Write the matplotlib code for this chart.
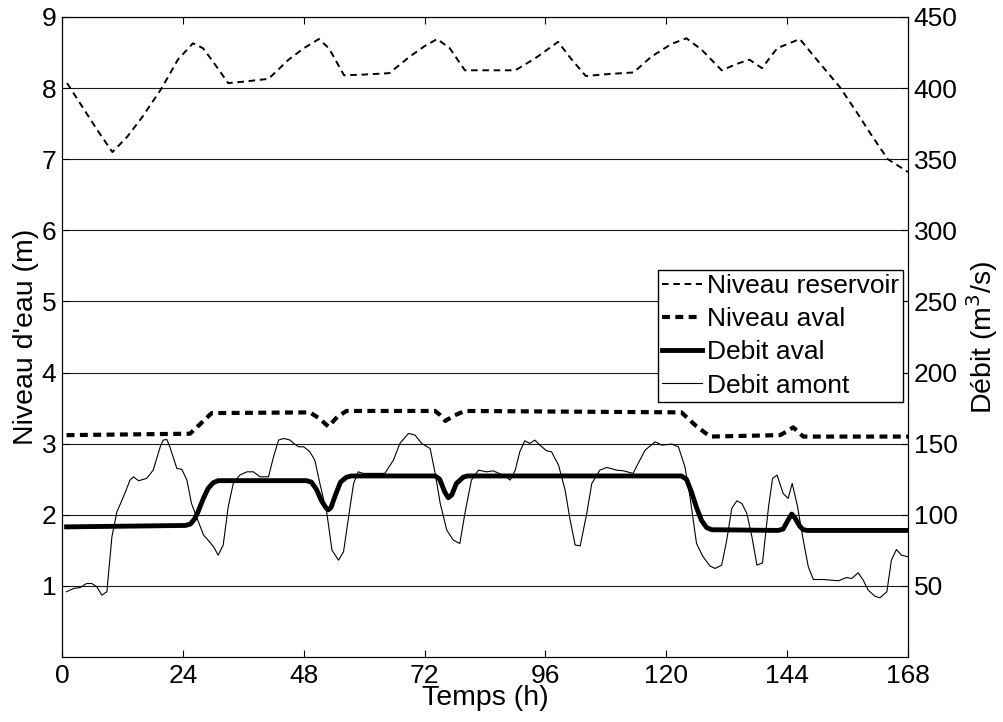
import numpy as np
import matplotlib
matplotlib.use("Agg")
import matplotlib.pyplot as plt

plt.rcParams['font.family'] = ['Liberation Sans', 'DejaVu Sans']

# Niveau reservoir (m)
t_res = [1, 4, 7, 10, 13, 16, 19.8, 23, 26, 28, 30, 33, 36, 41, 45, 48, 51, 53, 56, 60, 65, 69, 72,
	74.5, 77, 80, 85, 90, 94, 98.5, 101, 104, 109, 113.5, 117, 121, 124, 127, 131, 134, 136.5, 139,
	142, 146.5, 150, 154.5, 158, 161, 164, 168]
niveau_res = [8.07, 7.74, 7.41, 7.10, 7.32, 7.60, 8.00, 8.40, 8.63, 8.56, 8.37, 8.07, 8.09, 8.13, 8.40,
	8.56, 8.69, 8.56, 8.18, 8.19, 8.21, 8.44, 8.59, 8.69, 8.56, 8.25, 8.25, 8.25, 8.42, 8.65, 8.42,
	8.17, 8.20, 8.22, 8.44, 8.62, 8.70, 8.54, 8.25, 8.34, 8.40, 8.28, 8.56, 8.69, 8.39, 8.01, 7.64,
	7.31, 7.00, 6.82]

# Niveau aval (m)
t_aval = [0.9, 25.4, 27.5, 29.7, 49.2, 51, 52.9, 54.7, 56.5, 74.1, 75.1, 76.1, 78, 80, 123, 125.9,
	128.7, 142.6, 143.9, 145.2, 147.2, 168]
niveau_aval = [3.12, 3.14, 3.28, 3.43, 3.44, 3.36, 3.24, 3.38, 3.46, 3.46, 3.40, 3.32, 3.40, 3.46,
	3.44, 3.25, 3.10, 3.12, 3.17, 3.23, 3.10, 3.10]

# Debit aval (m3/s)
t_qaval = [0.9, 24.5, 25.5, 26.3, 27, 28, 29, 30, 31, 48.5, 49.5, 50.5, 51.5, 52.4, 52.9, 53.4,
	54.3, 55.3, 56.5, 57.5, 74.1, 75.0, 76.0, 76.7, 77.4, 78.3, 79.7, 80.5, 123, 124, 125, 126,
	127, 128, 129, 142.2, 143.2, 144.3, 144.9, 145.5, 146.5, 147.2, 148, 168]
debit_aval = [91.5, 92.5, 93.5, 97, 102, 111, 118.5, 122.5, 124, 124, 123, 118, 110, 105, 103.5,
	105, 114, 123, 126.5, 127.3, 127.3, 125, 116, 112, 114, 122, 126.5, 127.3, 127.3, 125, 116,
	105, 96, 91, 89.5, 89, 90, 97, 100.5, 98, 92, 89.5, 89, 89]

# Debit amont (m3/s)
t_qamont = [0.9, 2.3, 3.6, 4.9, 5.9, 6.9, 7.9, 8.9, 9.9, 10.9, 12.2, 13.5, 14.2, 15.2, 16.8, 18.1,
	19.5, 20.1, 20.8, 21.4, 22.8, 23.8, 24.8, 25.7, 26.7, 28.1, 28.7, 30.1, 31.0, 32.0, 33.0, 34.0,
	35.3, 36.7, 38.0, 39.3, 41.0, 42.0, 43.0, 44.0, 45.3, 46.0, 47.0, 48.0, 49.2, 50.2, 51.2, 52.6,
	53.6, 54.9, 55.9, 57.2, 57.9, 58.8, 59.8, 63.1, 64.1, 65.8, 67.1, 68.8, 70.1, 71.4, 73.1, 74.1,
	75.1, 76.4, 77.7, 79.0, 80.0, 81.3, 82.7, 84.3, 85.6, 87.6, 89.0, 90.0, 90.9, 91.9, 92.9, 93.9,
	94.9, 96.2, 97.2, 98.6, 99.9, 100.9, 101.9, 102.9, 104.2, 105.2, 106.8, 108.2, 110.1, 111.5,
	113.4, 114.4, 115.8, 117.8, 119.1, 121.1, 122.4, 123.7, 124.7, 126.0, 127.3, 128.7, 129.7, 131.0,
	132.0, 133.0, 134.0, 135.0, 136.0, 137.0, 138.0, 139.1, 140.3, 141.1, 142.0, 143.2, 144.2, 145.0,
	146.0, 147.2, 148.2, 149.2, 151.2, 154.2, 155.8, 156.8, 158.1, 159.1, 160.1, 161.4, 162.4, 163.8,
	164.7, 165.7, 166.7, 168.0]
debit_amont = [45.9, 48.2, 48.9, 51.7, 51.7, 49.4, 43.5, 45.9, 84.5, 102.1, 112.7, 124.4, 126.7,
	123.9, 125.6, 131.4, 147.8, 152.5, 153.0, 147.8, 132.6, 131.9, 124.4, 108.0, 98.6, 85.7, 83.4,
	77.5, 71.6, 78.7, 105.6, 122.0, 127.9, 130.2, 130.2, 126.7, 126.7, 140.8, 152.5, 153.7, 152.5,
	150.2, 147.8, 147.8, 144.3, 138.4, 122.0, 100.9, 75.2, 68.1, 74.0, 105.6, 122.0, 130.2, 129.1,
	129.1, 129.1, 138.4, 150.2, 157.2, 156.0, 150.2, 146.6, 129.1, 108.0, 89.2, 82.2, 79.8, 100.9,
	124.4, 131.4, 130.2, 130.9, 127.9, 124.4, 131.4, 144.3, 152.0, 150.2, 152.5, 149.0, 145.0, 144.3,
	134.9, 117.4, 96.3, 78.7, 78.2, 100.9, 122.0, 131.4, 133.3, 131.4, 130.9, 129.1, 136.1, 145.5,
	151.3, 149.0, 149.7, 147.8, 133.7, 112.7, 79.8, 70.5, 63.9, 62.3, 64.6, 82.2, 104.5, 109.8, 108.0,
	100.9, 84.5, 64.6, 66.2, 105.6, 125.6, 127.9, 115.0, 111.5, 122.0, 106.8, 82.2, 63.4, 54.5, 54.5,
	53.6, 55.9, 55.2, 59.2, 54.1, 47.0, 42.8, 41.6, 45.9, 68.1, 75.6, 71.6, 70.5]

x_ticks = [0, 24, 48, 72, 96, 120, 144, 168]
y_ticks_left = [1, 2, 3, 4, 5, 6, 7, 8, 9]
y_ticks_right = [50, 100, 150, 200, 250, 300, 350, 400, 450]


def main():
	fig = plt.figure(figsize=(10.04, 7.22), dpi=100)
	ax = fig.add_axes([0.0618, 0.090, 0.8426, 0.8865])
	ax2 = ax.twinx()

	l1, = ax.plot(t_res, niveau_res, color='k', lw=1.4, dashes=(3.4, 2.4), label='Niveau reservoir')
	l2, = ax.plot(t_aval, niveau_aval, color='k', lw=3.0, dashes=(1.9, 1.3), label='Niveau aval')
	l3, = ax2.plot(t_qaval, debit_aval, color='k', lw=3.5, solid_joinstyle='round', label='Debit aval')
	l4, = ax2.plot(t_qamont, debit_amont, color='k', lw=0.8, label='Debit amont')

	ax.set_xlim(0, 168)
	ax.set_ylim(0, 9)
	ax2.set_ylim(0, 450)
	ax.set_xticks(x_ticks)
	ax.set_yticks(y_ticks_left)
	ax2.set_yticks(y_ticks_right)
	ax.yaxis.grid(True, color='0.1', lw=0.8)

	ax.tick_params(axis='both', direction='in', length=5, labelsize=19, top=True, pad=4)
	ax.tick_params(axis='x', pad=5)
	ax2.tick_params(axis='y', direction='in', length=5, labelsize=19, pad=4)

	ax.set_xlabel('Temps (h)', fontsize=20.5, labelpad=-2)
	ax.set_ylabel("Niveau d'eau (m)", fontsize=20.5, labelpad=2)
	ax2.set_ylabel('Débit (m$^3$/s)', fontsize=20.5, labelpad=5)

	leg = ax2.legend(handles=[l1, l2, l3, l4], loc='upper right', bbox_to_anchor=(0.994, 0.6047),
		borderaxespad=0, fontsize=19, handlelength=1.5, handletextpad=0.2, labelspacing=0.35,
		borderpad=0.15, fancybox=False, framealpha=1, edgecolor='k')
	leg.get_frame().set_linewidth(1.0)

	fig.savefig('out.png', dpi=100)
	return 1


if __name__ == "__main__":
	main()
